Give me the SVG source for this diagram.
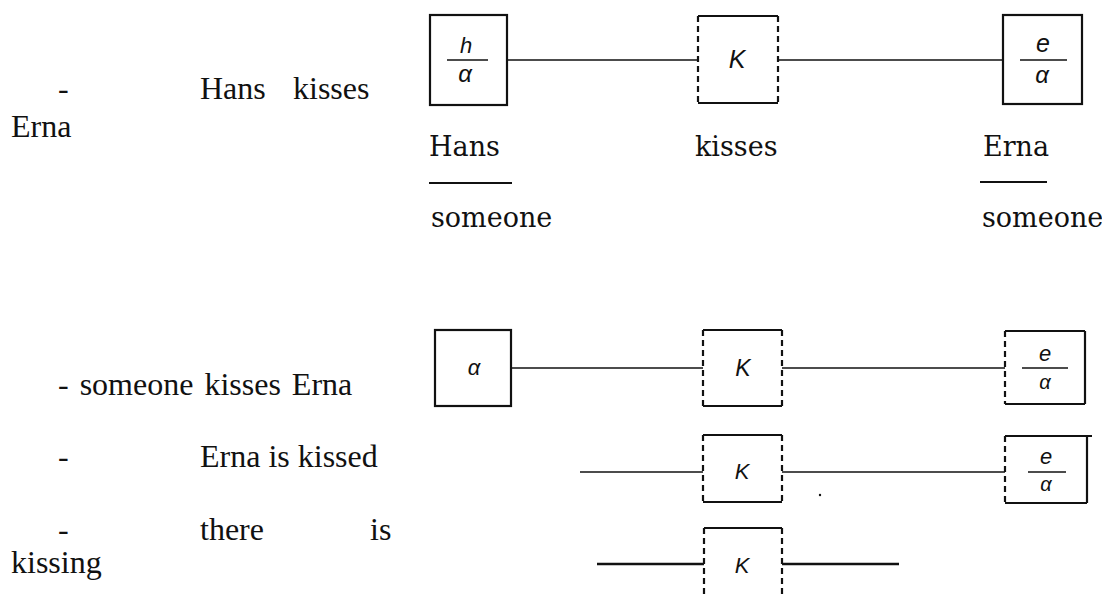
<svg xmlns="http://www.w3.org/2000/svg" width="1102" height="598" viewBox="0 0 1102 598">
<style>
.prose{font-family:"Liberation Serif","Times New Roman",serif;font-size:32px;fill:#111}
.lbl{font-family:"DejaVu Serif","Liberation Serif",serif;font-size:27px;fill:#111}
.sym{font-family:"Liberation Sans",Arial,sans-serif;font-style:italic;fill:#111;text-anchor:middle}
.box{fill:none;stroke:#111;stroke-width:2.2}
.solid{stroke:#111;stroke-width:2.2;fill:none}
.dash{stroke:#111;stroke-width:2.2;stroke-dasharray:6 4;fill:none}
.conn{stroke:#111;stroke-width:1.6;fill:none}
.thick{stroke:#111;stroke-width:2.6;fill:none}
.frac{stroke:#111;stroke-width:1.6}
</style>
<rect width="1102" height="598" fill="#fff"/>
<g id="prose">
<text class="prose" y="99"><tspan x="58">-</tspan><tspan x="200">Hans</tspan><tspan x="293">kisses</tspan></text>
<text class="prose" x="11" y="137">Erna</text>
<text class="prose" x="58" y="395" word-spacing="3">- someone kisses Erna</text>
<text class="prose" y="467"><tspan x="58">-</tspan><tspan x="200">Erna is kissed</tspan></text>
<text class="prose" y="540"><tspan x="58">-</tspan><tspan x="200">there</tspan><tspan x="370">is</tspan></text>
<text class="prose" x="11" y="573">kissing</text>
</g>
<g id="connectors">
<line class="conn" x1="507" y1="60" x2="698" y2="60" stroke-width="2"/>
<line class="conn" x1="778" y1="60" x2="1003" y2="60" stroke-width="2"/>
<line class="conn" x1="511" y1="368" x2="703" y2="368"/>
<line class="conn" x1="782" y1="368" x2="1005" y2="368"/>
<line class="conn" x1="580" y1="472" x2="703" y2="472"/>
<line class="conn" x1="782" y1="472" x2="1005" y2="472"/>
<line class="thick" x1="597" y1="564" x2="704" y2="564"/>
<line class="thick" x1="782" y1="564" x2="899" y2="564"/>
</g>
<g id="node-hans">
<rect class="box" x="430" y="15" width="77" height="90"/>
<text class="sym" x="466" y="53" font-size="22">h</text>
<line class="frac" x1="447" y1="60" x2="488" y2="60"/>
<text class="sym" x="465" y="82" font-size="24">α</text>
<text class="lbl" x="429" y="156">Hans</text>
<line class="solid" x1="429" y1="183" x2="512" y2="183" stroke-width="1.8"/>
<text class="lbl" x="431" y="227">someone</text>
</g>
<g id="node-kisses">
<line class="solid" x1="698" y1="16" x2="778" y2="16"/>
<line class="solid" x1="698" y1="103" x2="778" y2="103"/>
<line class="dash" x1="698" y1="16" x2="698" y2="103"/>
<line class="dash" x1="778" y1="16" x2="778" y2="103"/>
<text class="sym" x="737" y="68" font-size="25">K</text>
<text class="lbl" x="695" y="156">kisses</text>
</g>
<g id="node-erna">
<rect class="box" x="1003" y="15" width="79" height="89"/>
<text class="sym" x="1043" y="52" font-size="25">e</text>
<line class="frac" x1="1020" y1="60" x2="1067" y2="60"/>
<text class="sym" x="1042" y="83" font-size="24">α</text>
<text class="lbl" x="983" y="156">Erna</text>
<line class="solid" x1="980" y1="182" x2="1047" y2="182" stroke-width="1.8"/>
<text class="lbl" x="982" y="227">someone</text>
</g>
<g id="node-alpha2">
<rect class="box" x="435" y="330" width="76" height="76"/>
<text class="sym" x="474" y="375" font-size="22">α</text>
</g>
<g id="node-k2">
<line class="solid" x1="703" y1="330" x2="782" y2="330"/>
<line class="solid" x1="703" y1="406" x2="782" y2="406"/>
<line class="dash" x1="703" y1="330" x2="703" y2="406"/>
<line class="dash" x1="782" y1="330" x2="782" y2="406" stroke-width="2.6"/>
<text class="sym" x="743" y="376" font-size="23">K</text>
</g>
<g id="node-e2">
<line class="solid" x1="1005" y1="331" x2="1085" y2="331"/>
<line class="solid" x1="1005" y1="404" x2="1085" y2="404"/>
<line class="dash" x1="1005" y1="331" x2="1005" y2="404" stroke-dasharray="10 3"/>
<line class="solid" x1="1085" y1="331" x2="1085" y2="404"/>
<text class="sym" x="1045" y="361" font-size="22">e</text>
<line class="frac" x1="1022" y1="368" x2="1068" y2="368"/>
<text class="sym" x="1045" y="389" font-size="20">α</text>
</g>
<g id="node-k3">
<line class="solid" x1="703" y1="435" x2="782" y2="435" stroke-width="2.8"/>
<line class="solid" x1="703" y1="502" x2="782" y2="502"/>
<line class="dash" x1="703" y1="435" x2="703" y2="502"/>
<line class="dash" x1="782" y1="435" x2="782" y2="502"/>
<text class="sym" x="742" y="479" font-size="22">K</text>
</g>
<g id="node-e3">
<line class="solid" x1="1005" y1="436" x2="1092" y2="436" stroke-width="2.6"/>
<line class="solid" x1="1005" y1="503" x2="1087" y2="503"/>
<line class="dash" x1="1005" y1="436" x2="1005" y2="503" stroke-dasharray="10 3"/>
<line class="solid" x1="1087" y1="436" x2="1087" y2="503"/>
<text class="sym" x="1046" y="464" font-size="22">e</text>
<line class="frac" x1="1028" y1="472" x2="1066" y2="472"/>
<text class="sym" x="1046" y="491" font-size="20">α</text>
<circle cx="820" cy="495" r="1.2" fill="#111"/>
</g>
<g id="node-k4">
<line class="solid" x1="704" y1="528" x2="782" y2="528"/>
<line class="dash" x1="704" y1="528" x2="704" y2="610"/>
<line class="dash" x1="782" y1="528" x2="782" y2="610"/>
<text class="sym" x="742" y="573" font-size="22">K</text>
</g>
</svg>
